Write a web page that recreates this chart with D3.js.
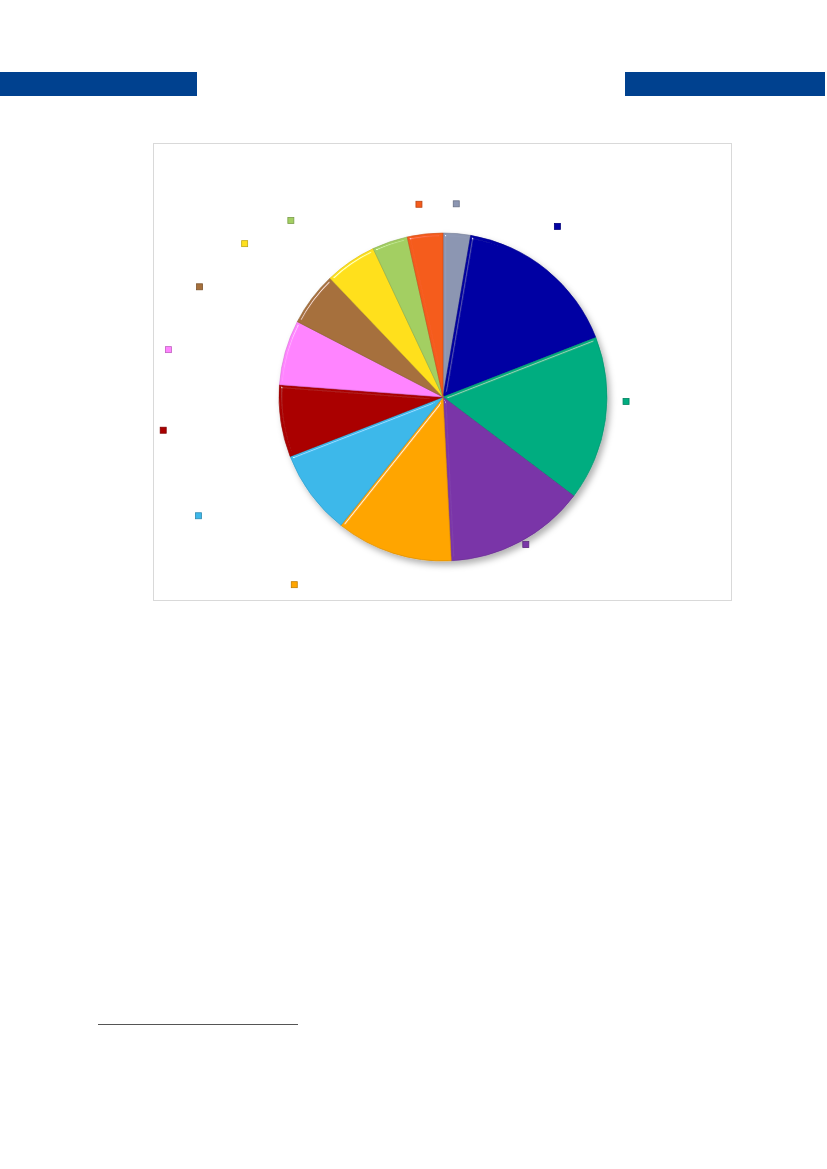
<!DOCTYPE html>
<html>
<head>
<meta charset="utf-8">
<script src="https://cdn.jsdelivr.net/npm/d3@7"></script>
<style>
  body { margin: 0; background: #fff; }
  svg { display: block; }
</style>
</head>
<body>
<script>
// slice shares (percent), clockwise from 12 o'clock
const sliceKeys = ["gray", "blue", "green", "purple", "orange", "lightblue",
                   "red", "pink", "brown", "yellow", "lightgreen", "orangered"];
const sliceValues = [2.7, 16.4, 16.2, 13.9, 11.5, 8.4, 7.1, 6.4, 5.3, 5.1, 3.5, 3.5];
const sliceColors = ["#8c96b2", "#0303a3", "#00ad80", "#7a36a8", "#ffa500", "#3db8ea",
                     "#aa0000", "#ff84ff", "#a6703c", "#ffe01e", "#a3cf62", "#f55b1b"];

const W = 827, H = 1169;
const svg = d3.select("body").append("svg")
  .attr("width", W)
  .attr("height", H);

const defs = svg.append("defs");

// drop shadow under the whole pie
const shadow = defs.append("filter").attr("id", "shadow")
  .attr("x", "-20%").attr("y", "-20%").attr("width", "140%").attr("height", "140%");
shadow.append("feDropShadow")
  .attr("dx", 3).attr("dy", 4).attr("stdDeviation", 3)
  .attr("flood-color", "#000").attr("flood-opacity", 0.3);

// soft bevel on each slice, light coming from upper left
const bevel = defs.append("filter").attr("id", "bevel")
  .attr("x", "-5%").attr("y", "-5%").attr("width", "110%").attr("height", "110%");
bevel.append("feGaussianBlur").attr("in", "SourceAlpha").attr("stdDeviation", 1.5).attr("result", "blur");
bevel.append("feSpecularLighting")
  .attr("in", "blur").attr("surfaceScale", 3).attr("specularConstant", 0.6)
  .attr("specularExponent", 70).attr("lighting-color", "#fff").attr("result", "spec")
  .append("feDistantLight").attr("azimuth", 225).attr("elevation", 40);
bevel.append("feComposite").attr("in", "spec").attr("in2", "SourceAlpha")
  .attr("operator", "in").attr("result", "specIn");
bevel.append("feComposite").attr("in", "SourceGraphic").attr("in2", "specIn")
  .attr("operator", "arithmetic").attr("k1", 0).attr("k2", 1).attr("k3", 1).attr("k4", 0);

// page header bars
svg.append("rect").attr("x", 0).attr("y", 72).attr("width", 197).attr("height", 24).attr("fill", "#00418f");
svg.append("rect").attr("x", 625).attr("y", 72).attr("width", 200).attr("height", 24).attr("fill", "#00418f");

// chart area frame
svg.append("rect")
  .attr("x", 153.5).attr("y", 143.5)
  .attr("width", 578).attr("height", 457)
  .attr("fill", "#fff")
  .attr("stroke", "#d9d9d9");

// footnote rule
svg.append("line")
  .attr("x1", 98).attr("x2", 298).attr("y1", 1024.5).attr("y2", 1024.5)
  .attr("stroke", "#555").attr("stroke-width", 1.2);

const cx = 443, cy = 397, r = 164;

const data = sliceKeys.map((k, i) => ({ key: k, value: sliceValues[i], color: sliceColors[i] }));

const pie = d3.pie().sort(null).value((d) => d.value);
const arcs = pie(data);

const arc = d3.arc().innerRadius(0).outerRadius(r);
const labelArc = d3.arc().innerRadius(r * 1.17).outerRadius(r * 1.17);

const g = svg.append("g")
  .attr("transform", `translate(${cx},${cy})`)
  .attr("filter", "url(#shadow)");

g.selectAll("path")
  .data(arcs)
  .enter()
  .append("path")
  .attr("d", arc)
  .attr("fill", (d) => d.data.color)
  .attr("stroke", (d) => d3.color(d.data.color).darker(0.5))
  .attr("stroke-width", 0.6)
  .attr("filter", "url(#bevel)");

// label keys (label text itself is blank in the source)
const keys = svg.append("g").attr("transform", `translate(${cx},${cy})`);
keys.selectAll("rect")
  .data(arcs)
  .enter()
  .append("rect")
  .attr("x", (d) => {
    const [x] = labelArc.centroid(d);
    if (Math.abs(x) < 30) return x - 6;
    return x < 0 ? x - 93 : x - 10;
  })
  .attr("y", (d) => {
    const [x, y] = labelArc.centroid(d);
    if (Math.abs(x) < 30) return y - 5;
    return x < 0 ? y + 2 : y - 25;
  })
  .attr("width", 6)
  .attr("height", 6)
  .attr("fill", (d) => d.data.color)
  .attr("stroke", (d) => d3.color(d.data.color).darker(0.8))
  .attr("stroke-width", 0.8);
</script>
</body>
</html>
